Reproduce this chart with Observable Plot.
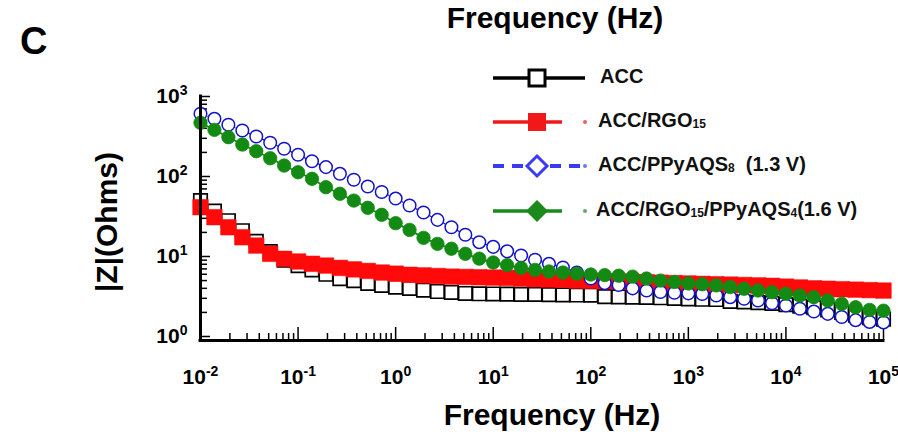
<!DOCTYPE html>
<html><head><meta charset="utf-8">
<script src="https://cdn.jsdelivr.net/npm/d3@7"></script>
<script src="https://cdn.jsdelivr.net/npm/@observablehq/plot@0.6"></script>
<style>
body{margin:0;background:#fff;}
#wrap{position:relative;width:898px;height:443px;font-family:"Liberation Sans",Arial,sans-serif;overflow:hidden;}
#chart{position:absolute;left:0;top:0;}
.t{position:absolute;font-weight:bold;color:#000;white-space:nowrap;line-height:1;}
.leg{position:absolute;left:490px;top:56px;}
.row{position:absolute;left:0;height:40px;width:410px;}
.row svg{position:absolute;left:0;top:0;}
.row span{position:absolute;top:9px;font-weight:bold;font-size:20px;white-space:nowrap;color:#111;}
.row sub{font-size:12px;vertical-align:baseline;position:relative;top:1px;}
</style></head><body>
<div id="wrap">
  <div id="chart"></div>
  <div class="t" style="left:20px;top:22px;font-size:38px;">C</div>
  <div class="t" style="left:555px;top:3px;font-size:30px;transform:translateX(-50%);">Frequency (Hz)</div>
  <div class="t" style="left:552px;top:400px;font-size:30px;transform:translateX(-50%);">Frequency (Hz)</div>
  <div class="t" style="left:107px;top:222px;font-size:30px;transform:translate(-50%,-50%) rotate(-90deg);">|Z|(Ohms)</div>
  <div class="leg" id="legend"></div>
</div>
<script>
// ---------- data ----------
const freq = [
  0.01, 0.01389, 0.01931, 0.02683, 0.03728, 0.05179, 0.07197,
  0.1, 0.1389, 0.1931, 0.2683, 0.3728, 0.5179, 0.7197,
  1, 1.389, 1.931, 2.683, 3.728, 5.179, 7.197,
  10, 13.89, 19.31, 26.83, 37.28, 51.79, 71.97,
  100, 138.9, 193.1, 268.3, 372.8, 517.9, 719.7,
  1000, 1389, 1931, 2683, 3728, 5179, 7197,
  10000, 13890, 19310, 26830, 37280, 51790, 71970,
  100000
];
const zACC = [
  50, 37, 28, 21, 15.5, 11.5, 9.0, 7.7, 6.8, 6.0,
  5.3, 5.0, 4.6, 4.35, 4.15, 4.0, 3.8, 3.65, 3.55, 3.45,
  3.42, 3.4, 3.38, 3.36, 3.35, 3.33, 3.32, 3.3, 3.28, 3.15,
  3.12, 3.1, 3.08, 3.05, 3.0, 2.95, 2.92, 2.9, 2.75, 2.7,
  2.65, 2.6, 2.5, 2.4, 2.3, 2.15, 2.0, 1.85, 1.72, 1.65
];
const zRGO = [
  41.3, 31, 23.2, 17.4, 13.7, 10.8, 9.35, 8.66, 8.1, 7.7,
  7.2, 6.9, 6.6, 6.3, 6.1, 5.9, 5.8, 5.7, 5.6, 5.55,
  5.5, 5.45, 5.4, 5.3, 5.2, 5.15, 5.1, 5.0, 4.95, 4.9,
  4.85, 4.8, 4.75, 4.7, 4.65, 4.6, 4.55, 4.5, 4.45, 4.4,
  4.35, 4.3, 4.2, 4.1, 4.0, 3.95, 3.9, 3.85, 3.8, 3.75
];
const zPPy = [
  608, 526, 443, 376, 316, 264, 222, 187, 155, 131,
  108, 91, 75, 64, 53, 43.4, 35.5, 28.7, 23.2, 18.7,
  15.1, 13.2, 11.6, 10.3, 9.1, 8.1, 7.3, 6.3, 5.3, 4.65,
  4.4, 4.0, 3.75, 3.6, 3.52, 3.46, 3.4, 3.25, 3.1, 2.96,
  2.82, 2.6, 2.44, 2.22, 2.05, 1.92, 1.75, 1.6, 1.52, 1.5
];
const zHyb = [
  469, 383, 310, 251, 207, 169, 137, 113, 93.6, 73.5,
  60.8, 50, 40.6, 33.2, 26.1, 21.5, 17.1, 14.4, 12.5, 10.8,
  9.4, 8.4, 7.8, 7.2, 6.8, 6.5, 6.3, 6.1, 5.95, 5.85,
  5.75, 5.6, 5.3, 5.0, 4.8, 4.6, 4.5, 4.35, 4.15, 3.95,
  3.76, 3.58, 3.42, 3.25, 3.1, 2.82, 2.56, 2.32, 2.15, 2.1
];
const seriesNames = ["ACC", "ACC/RGO<sub>15</sub>", "ACC/PPyAQS<sub>8</sub>&nbsp; (1.3 V)", "ACC/RGO<sub>15</sub>/PPyAQS<sub>4</sub>(1.6 V)"];
const xTicks = [1e-2, 1e-1, 1, 1e1, 1e2, 1e3, 1e4, 1e5];
const xTickLabels = ["10^-2", "10^-1", "10^0", "10^1", "10^2", "10^3", "10^4", "10^5"];
const yTicks = [1, 10, 100, 1000];
const yTickLabels = ["10^0", "10^1", "10^2", "10^3"];
const xDomain = [0.01, 100000];
const yDomain = [0.891, 1000];

// ---------- styles ----------
const black = "#000000", red = "#ff0a0a", blue = "#1212c8", green = "#138a13";

const mk = vals => freq.map((f, i) => ({f, z: vals[i]}));
const dACC = mk(zACC), dRGO = mk(zRGO), dPPy = mk(zPPy), dHyb = mk(zHyb);

const minors = (lo, hi) => {
  const out = [];
  for (let e = lo; e < hi; e++) for (let m = 2; m <= 9; m++) out.push(m * Math.pow(10, e));
  return out;
};
const xMinor = minors(-2, 5);
const yMinor = minors(0, 3);

const xLab = new Map(xTicks.map((t, i) => [t, xTickLabels[i]]));
const yLab = new Map(yTicks.map((t, i) => [t, yTickLabels[i]]));

const chart = Plot.plot({
  width: 898, height: 443,
  marginLeft: 200, marginRight: 15, marginTop: 96, marginBottom: 103,
  style: {fontFamily: "'Liberation Sans', Arial, sans-serif", background: "transparent", color: "#000", overflow: "visible"},
  x: {type: "log", domain: xDomain, label: null},
  y: {type: "log", domain: yDomain, label: null},
  marks: [
    Plot.axisX(xMinor, {tickSize: -7, tickFormat: () => "", strokeWidth: 1.5, label: null}),
    Plot.axisX(xTicks, {tickSize: -13, tickFormat: () => "", strokeWidth: 1.5, label: null}),
    Plot.axisX(xTicks, {tickSize: 0, tickPadding: 29, tickFormat: d => xLab.get(d), fontSize: 21, fontWeight: "bold", label: null}),
    Plot.axisY(yMinor, {tickSize: -7, tickFormat: () => "", strokeWidth: 1.5, label: null}),
    Plot.axisY(yTicks, {tickSize: -10, tickFormat: () => "", strokeWidth: 1.5, label: null}),
    Plot.axisY(yTicks, {tickSize: 0, tickPadding: 13, tickFormat: d => yLab.get(d), fontSize: 21, fontWeight: "bold", label: null}),
    // series
    Plot.line(dACC, {x: "f", y: "z", stroke: black, strokeWidth: 1.5}),
    Plot.dot(dACC, {x: "f", y: "z", symbol: "square", r: 7.6, fill: "white", stroke: black, strokeWidth: 1.7}),
    Plot.line(dRGO, {x: "f", y: "z", stroke: red, strokeWidth: 2}),
    Plot.dot(dRGO, {x: "f", y: "z", symbol: "square", r: 8.8, fill: red, stroke: red, strokeWidth: 0.5}),
    Plot.line(dPPy, {x: "f", y: "z", stroke: blue, strokeWidth: 1.2, strokeDasharray: "5,3"}),
    Plot.dot(dPPy, {x: "f", y: "z", r: 6.3, fill: "white", stroke: blue, strokeWidth: 1.5}),
    Plot.line(dHyb, {x: "f", y: "z", stroke: green, strokeWidth: 1.8}),
    Plot.dot(dHyb, {x: "f", y: "z", r: 6.7, fill: green, stroke: green, strokeWidth: 0.8}),
    // axis lines
    Plot.ruleX([xDomain[0]], {stroke: "#000", strokeWidth: 3, strokeLinecap: "square"}),
    Plot.ruleY([yDomain[0]], {stroke: "#000", strokeWidth: 3, strokeLinecap: "square"})
  ]
});
document.getElementById("chart").appendChild(chart);

// superscript exponents in tick labels
chart.querySelectorAll('g[aria-label$="tick label"] text').forEach(t => {
  const s = t.textContent;
  if (!s.includes("^")) return;
  const [base, exp] = s.split("^");
  t.textContent = "";
  const b = document.createElementNS("http://www.w3.org/2000/svg", "tspan");
  b.textContent = base;
  const e = document.createElementNS("http://www.w3.org/2000/svg", "tspan");
  e.textContent = exp;
  e.setAttribute("font-size", "14");
  e.setAttribute("dy", "-8");
  t.appendChild(b); t.appendChild(e);
});

// legend
const legendSpec = [
  {color: black, kind: "square-open", dash: null, tail: false},
  {color: "#f01818", kind: "square", dash: null, tail: true},
  {color: "#3a3af0", kind: "diamond-open", dash: "11,8", tail: true},
  {color: "#1a8a1a", kind: "diamond", dash: null, tail: true}
];
const rowsY = [0, 44, 88, 133];
const textX = [110, 108, 108, 106];
const leg = document.getElementById("legend");
legendSpec.forEach((s, i) => {
  const row = document.createElement("div");
  row.className = "row";
  row.style.top = rowsY[i] + "px";
  let marker = "";
  const cx = 47, cy = 22;
  if (s.kind === "square-open") marker = `<rect x="${cx-8}" y="${cy-8}" width="16" height="16" fill="white" stroke="${s.color}" stroke-width="3"/>`;
  if (s.kind === "square") marker = `<rect x="${cx-9}" y="${cy-9}" width="18" height="18" fill="${s.color}"/>`;
  if (s.kind === "diamond-open") marker = `<path d="M${cx},${cy-10}L${cx+10},${cy}L${cx},${cy+10}L${cx-10},${cy}Z" fill="white" stroke="${s.color}" stroke-width="3"/>`;
  if (s.kind === "diamond") marker = `<path d="M${cx},${cy-11}L${cx+11},${cy}L${cx},${cy+11}L${cx-11},${cy}Z" fill="${s.color}"/>`;
  const lineEnd = s.kind === "square-open" ? 95 : 72;
  const line = s.dash
    ? `<line x1="3" y1="${cy}" x2="${lineEnd+20}" y2="${cy}" stroke="${s.color}" stroke-width="4" stroke-dasharray="${s.dash}"/>`
    : `<line x1="3" y1="${cy}" x2="${lineEnd}" y2="${cy}" stroke="${s.color}" stroke-width="3.5"/>`;
  const tail = s.tail ? `<circle cx="${cx+48}" cy="${cy}" r="2" fill="${s.color}" opacity="0.7"/>` : "";
  row.innerHTML = `<svg width="110" height="44">${line}${marker}${tail}</svg><span style="left:${textX[i]}px">${seriesNames[i]}</span>`;
  leg.appendChild(row);
});
</script>
</body></html>
